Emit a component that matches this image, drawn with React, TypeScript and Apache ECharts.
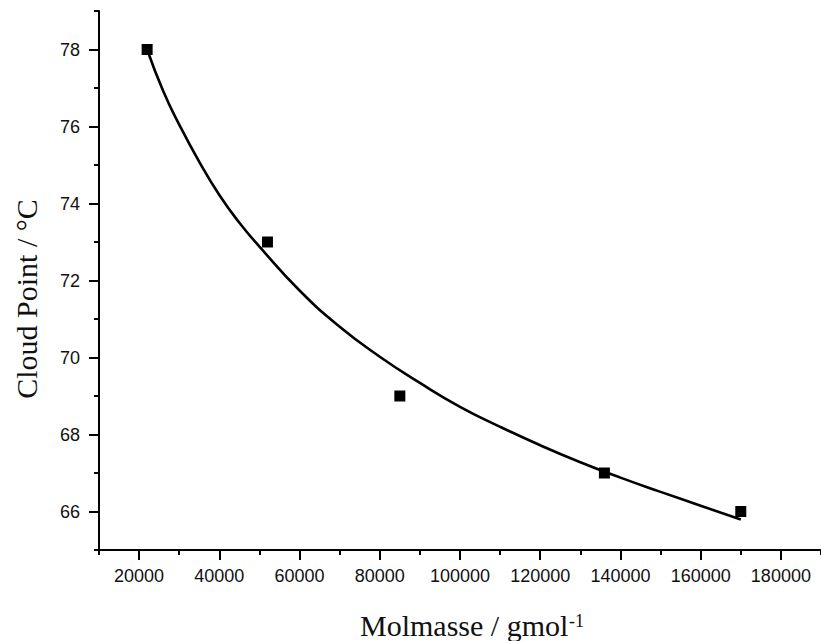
import React, { useEffect, useRef } from "react";
import * as echarts from "echarts";

const xMajorTicks = [20000, 40000, 60000, 80000, 100000, 120000, 140000, 160000, 180000];
const xMinorTicks = [10000, 30000, 50000, 70000, 90000, 110000, 130000, 150000, 170000, 190000];
const yMajorTicks = [66, 68, 70, 72, 74, 76, 78];
const yMinorTicks = [65, 67, 69, 71, 73, 75, 77, 79];

const molmasse = [22000, 52000, 85000, 136000, 170000];
const cloudPoint = [78, 73, 69, 67, 66];

const fitX = [22000, 26000, 30000, 35000, 40000, 45000, 50000, 60000, 70000, 80000, 90000, 100000, 110000, 120000, 130000, 140000, 150000, 160000, 170000];
const fitY = [78.0, 76.92, 76.05, 75.08, 74.22, 73.5, 72.88, 71.74, 70.8, 70.02, 69.34, 68.72, 68.2, 67.72, 67.28, 66.88, 66.51, 66.15, 65.79];

const xTitle = "Molmasse / gmol";
const xTitleSup = "-1";
const yTitle = "Cloud Point / °C";

export default function App() {
  const ref = useRef<HTMLDivElement>(null);
  useEffect(() => {
    if (!ref.current) return;
    const chart = echarts.init(ref.current, undefined, { renderer: "svg" });
    const axisLine = { show: true, lineStyle: { color: "#000", width: 2 } };
    const labelStyle = { color: "#111", fontSize: 18, fontFamily: "Liberation Sans, Arial, sans-serif" };
    chart.setOption({
      animation: false,
      backgroundColor: "#fff",
      grid: { left: 99, top: 11, width: 728, height: 539, containLabel: false },
      xAxis: [
        {
          type: "value", min: 10000, max: 190000, position: "bottom",
          axisLine,
          splitLine: { show: false },
          axisTick: { show: true, length: 10, lineStyle: { color: "#000", width: 2 }, customValues: xMajorTicks },
          axisLabel: { ...labelStyle, margin: 17, customValues: xMajorTicks, formatter: (v: number) => String(v) },
        },
        {
          type: "value", min: 10000, max: 190000, position: "bottom", offset: 0,
          axisLine: { show: false },
          splitLine: { show: false },
          axisTick: { show: true, length: 5, lineStyle: { color: "#000", width: 2 }, customValues: xMinorTicks },
          axisLabel: { show: false },
        },
      ],
      yAxis: [
        {
          type: "value", min: 65, max: 79, position: "left",
          axisLine,
          splitLine: { show: false },
          axisTick: { show: true, length: 10, lineStyle: { color: "#000", width: 2 }, customValues: yMajorTicks },
          axisLabel: { ...labelStyle, margin: 19, customValues: yMajorTicks },
        },
        {
          type: "value", min: 65, max: 79, position: "left", offset: 0,
          axisLine: { show: false },
          splitLine: { show: false },
          axisTick: { show: true, length: 5, lineStyle: { color: "#000", width: 2 }, customValues: yMinorTicks },
          axisLabel: { show: false },
        },
      ],
      series: [
        {
          type: "line",
          xAxisIndex: 0, yAxisIndex: 0,
          data: fitX.map((x, i) => [x, fitY[i]]),
          smooth: 0.5,
          showSymbol: false,
          symbol: "none",
          lineStyle: { color: "#000", width: 2.6 },
          z: 2,
        },
        {
          type: "scatter",
          xAxisIndex: 0, yAxisIndex: 0,
          data: molmasse.map((x, i) => [x, cloudPoint[i]]),
          symbol: "rect",
          symbolSize: 11,
          itemStyle: { color: "#000", opacity: 1 },
          z: 3,
        },
      ],
      graphic: [
        {
          type: "text", x: 26, y: 299, rotation: Math.PI / 2,
          style: { text: yTitle, fill: "#111", fontSize: 30, fontFamily: "Liberation Serif, Times New Roman, serif", textAlign: "center", textVerticalAlign: "middle" },
        },
        {
          type: "text", x: 360, y: 625,
          style: { text: xTitle, fill: "#111", fontSize: 30, fontFamily: "Liberation Serif, Times New Roman, serif", textAlign: "left", textVerticalAlign: "middle" },
        },
        {
          type: "text", x: 569, y: 621,
          style: { text: xTitleSup, fill: "#111", fontSize: 18, fontFamily: "Liberation Serif, Times New Roman, serif", textAlign: "left", textVerticalAlign: "middle" },
        },
      ],
    });
    return () => chart.dispose();
  }, []);
  return <div ref={ref} style={{ position: "fixed", left: 0, top: 0, width: 821, height: 641 }} />;
}
